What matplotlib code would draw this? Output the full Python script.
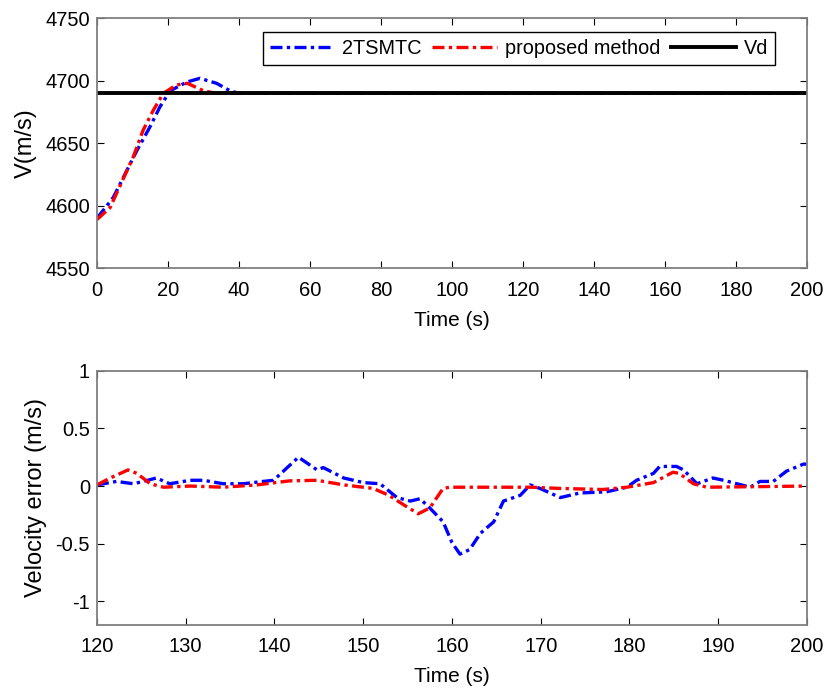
import matplotlib

matplotlib.use("Agg")
import matplotlib.pyplot as plt

plt.rcParams["font.family"] = ["Liberation Sans", "DejaVu Sans"]

# 上图：速度跟踪（0-200 s）
t_blue_top = [0, 4.6, 11.2, 14.9, 17.7, 20.6, 25.3, 29.0, 33.7, 37.5, 40, 200]
v_blue_top = [4590, 4606.7, 4644, 4663, 4679, 4692, 4699, 4702, 4698, 4692, 4690, 4690]
t_red_top = [0, 3.7, 10.2, 13.0, 15.9, 18.7, 22.4, 25.5, 30.0, 33.6, 200]
v_red_top = [4589, 4598.6, 4639, 4660.5, 4676.6, 4690, 4696.7, 4698, 4692, 4690, 4690]
vd = 4690

# 下图：速度误差（120-200 s）
t_blue_err = [120.0, 122.2, 124.1, 125.2, 126.7, 128.2, 130.5, 132.0, 134.2, 136.5,
              138.7, 139.9, 142.7, 144.8, 145.5, 147.8, 150.0, 151.9, 153.8, 155.3,
              156.4, 157.5, 159.0, 160.0, 160.9, 162.0, 163.2, 164.7, 165.8, 167.7,
              168.8, 169.9, 172.2, 174.4, 177.4, 179.7, 180.8, 182.7, 183.4, 185.3,
              186.1, 187.6, 189.4, 190.6, 192.1, 193.6, 194.7, 196.2, 197.7, 199.6, 200.0]
e_blue_err = [0.01, 0.04, 0.02, 0.04, 0.07, 0.02, 0.05, 0.05, 0.02, 0.02,
              0.04, 0.05, 0.25, 0.14, 0.16, 0.07, 0.03, 0.02, -0.10, -0.13,
              -0.11, -0.19, -0.31, -0.49, -0.59, -0.55, -0.41, -0.31, -0.13, -0.08,
              0.01, -0.02, -0.10, -0.06, -0.05, -0.01, 0.05, 0.11, 0.17, 0.17,
              0.14, 0.02, 0.07, 0.05, 0.02, -0.01, 0.04, 0.04, 0.13, 0.19, 0.19]
t_red_err = [120.0, 121.5, 123.5, 124.5, 126.0, 127.5, 130.5, 134.2, 138.0, 141.7,
             144.8, 147.8, 151.1, 152.9, 154.5, 156.2, 157.5, 159.0, 159.8, 169.0,
             172.0, 177.0, 179.7, 182.7, 184.9, 185.6, 187.2, 188.7, 200.0]
e_red_err = [0.01, 0.07, 0.14, 0.11, 0.02, -0.01, 0.0, -0.01, 0.01, 0.045,
             0.05, 0.01, -0.02, -0.08, -0.16, -0.24, -0.19, -0.02, -0.01, -0.01,
             -0.02, -0.03, -0.01, 0.03, 0.12, 0.11, 0.02, -0.01, 0.0]

BLUE = "#0000ff"
RED = "#ff0000"
DASHDOT = (0, (3.6, 1.3, 1.0, 1.3))
TICK_FS = 14.5
XLAB_FS = 15
YLAB_FS = 17
LEG_FS = 14.3


def _style(ax):
    for sp in ax.spines.values():
        sp.set_color("#7f7f7f")
        sp.set_linewidth(1.3)
    ax.tick_params(direction="in", top=True, right=True, length=5,
                   labelsize=TICK_FS, colors="black", width=0.8)
    ax.tick_params(axis="x", pad=9)
    ax.tick_params(axis="y", pad=5)


fig = plt.figure(figsize=(8.26, 6.89), dpi=100)

ax1 = fig.add_axes([0.1174, 0.6106, 0.8596, 0.3628])
ax1.plot(t_blue_top, v_blue_top, color=BLUE, linewidth=2.4, linestyle=DASHDOT, label="2TSMTC")
ax1.plot(t_red_top, v_red_top, color=RED, linewidth=2.4, linestyle=DASHDOT, label="proposed method")
ax1.axhline(vd, color="black", linewidth=2.8, label="Vd")
ax1.set_xlim(0, 200)
ax1.set_ylim(4550, 4750)
ax1.set_xticks(range(0, 201, 20))
ax1.set_yticks(range(4550, 4751, 50))
ax1.set_xlabel("Time (s)", fontsize=XLAB_FS, labelpad=8)
ax1.set_ylabel("V(m/s)", fontsize=YLAB_FS, labelpad=6)
_style(ax1)
leg = ax1.legend(loc="upper right", bbox_to_anchor=(0.955, 0.945), borderaxespad=0,
                 ncol=3, fontsize=LEG_FS, fancybox=False, edgecolor="black",
                 framealpha=1, handlelength=3.25, columnspacing=0.55,
                 handletextpad=0.4, borderpad=0.35)
leg.get_frame().set_linewidth(1.0)

ax2 = fig.add_axes([0.1174, 0.0936, 0.8596, 0.3684])
ax2.plot(t_blue_err, e_blue_err, color=BLUE, linewidth=2.4, linestyle=DASHDOT)
ax2.plot(t_red_err, e_red_err, color=RED, linewidth=2.4, linestyle=DASHDOT)
ax2.set_xlim(120, 200)
ax2.set_ylim(-1.2, 1)
ax2.set_xticks(range(120, 201, 10))
ax2.set_yticks([-1, -0.5, 0, 0.5, 1])
ax2.set_yticklabels(["-1", "-0.5", "0", "0.5", "1"])
ax2.set_xlabel("Time (s)", fontsize=XLAB_FS, labelpad=8)
ax2.set_ylabel("Velocity error (m/s)", fontsize=YLAB_FS, labelpad=6)
_style(ax2)

fig.savefig("out.png", dpi=100)
